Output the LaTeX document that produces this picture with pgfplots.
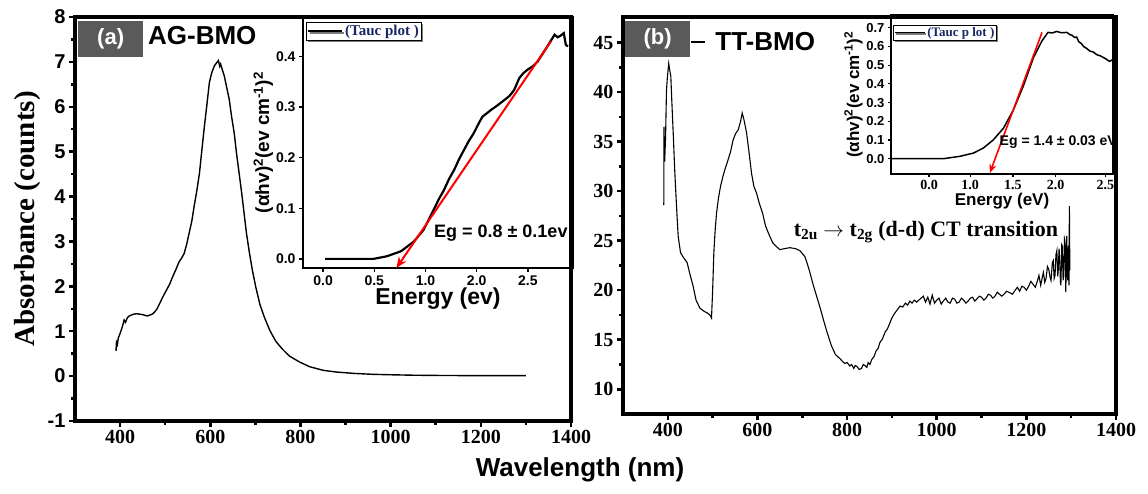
\documentclass[border=0pt]{standalone}
\usepackage{fontspec}
\setmainfont{Liberation Serif}
\setsansfont{Liberation Sans}
\usepackage{pgfplots}
\pgfplotsset{compat=1.18}
\usetikzlibrary{arrows.meta,shadows}
\newcommand{\fs}[1]{\fontsize{#1}{#1}\selectfont}
\definecolor{boxgray}{RGB}{90,90,90}
\definecolor{navy}{RGB}{25,40,100}

\begin{document}
\begin{tikzpicture}[x=1pt,y=1pt]
\useasboundingbox (0,0) rectangle (1148,493);

%================ panel (a) main
\begin{axis}[
 at={(75pt,72pt)}, anchor=south west, scale only axis,
 width=496pt, height=404pt,
 xmin=300, xmax=1400, ymin=-1, ymax=8,
 axis line style={line width=3.5pt},
 xtick={400,600,800,1000,1200,1400},
 xticklabels={400,600,800,1000,1200,1400},
 ytick={-1,0,1,2,3,4,5,6,7,8},
 yticklabels={-1,0,1,2,3,4,5,6,7,8},
 minor x tick num=1, minor y tick num=1,
 tick align=outside, xtick pos=bottom, ytick pos=left,
 major tick length=6pt, minor tick length=4pt,
 every tick/.style={line width=2.5pt,black},
 xticklabel style={font=\rmfamily\bfseries\fs{20}},
 yticklabel style={font=\sffamily\bfseries\fs{20}},
 ylabel={Absorbance (counts)},
 ylabel style={font=\rmfamily\bfseries\fs{29}},
 clip=false,
]
\addplot[black, line width=1.4pt] coordinates {
(391,0.56) (392,0.75) (394,0.70) (396,0.85) (400,0.95) (405,1.10) (409,1.25) (412,1.20)
(416,1.30) (420,1.34) (425,1.36) (430,1.38) (436,1.39) (443,1.38) (450,1.37) (456,1.35)
(461,1.34) (466,1.36) (471,1.38) (476,1.42) (482,1.50) (487,1.60) (494,1.75) (502,1.90)
(510,2.05) (516,2.20) (524,2.38) (531,2.55) (536,2.62) (542,2.73) (548,2.95) (553,3.18)
(559,3.45) (564,3.77) (570,4.12) (576,4.52) (581,5.00) (587,5.57) (592,6.00) (598,6.54)
(603,6.75) (609,6.91) (614,6.98) (618,7.03) (621,6.90) (623,6.95) (626,6.85) (631,6.69)
(636,6.45) (642,6.17) (647,5.80) (653,5.42) (658,4.98) (664,4.52) (670,4.05) (675,3.63)
(680,3.20) (686,2.80) (693,2.38) (701,1.98) (710,1.60) (720,1.31) (732,1.02) (745,0.78)
(760,0.60) (775,0.45) (797,0.32) (820,0.21) (850,0.13) (880,0.09) (920,0.06) (960,0.04)
(1000,0.03) (1050,0.02) (1100,0.015) (1200,0.01) (1300,0.01)
};
\node[fill=boxgray, text=white, font=\sffamily\bfseries\fs{22}, minimum width=65pt,
 minimum height=36pt, inner sep=0pt, anchor=north west] at (rel axis cs:0.006,0.99) {(a)};
\node[font=\sffamily\bfseries\fs{26}, anchor=west, inner sep=0pt] at (rel axis cs:0.147,0.955) {AG-BMO};
\end{axis}

%================ panel (a) inset
\begin{axis}[
 at={(303pt,225pt)}, anchor=south west, scale only axis,
 width=270pt, height=251pt,
 xmin=-0.196, xmax=2.44, ymin=-0.018, ymax=0.478,
 axis line style={line width=2.5pt},
 xtick={0,0.5,1,1.5,2}, xticklabels={0.0,0.5,1.0,2.0,2.5},
 ytick={0,0.1,0.2,0.3,0.4}, yticklabels={0.0,0.1,0.2,0.3,0.4},
 tick align=outside, xtick pos=bottom, ytick pos=left,
 major tick length=4pt,
 every tick/.style={line width=1.5pt,black},
 ticklabel style={font=\sffamily\bfseries\fs{14}},
 xlabel={Energy (ev)},
 xlabel style={font=\sffamily\bfseries\fs{23}, yshift=4pt},
 ylabel={(αhv)\textsuperscript{2}(ev cm\textsuperscript{-1})\textsuperscript{2}},
 ylabel style={font=\sffamily\bfseries\fs{19}, yshift=-4pt},
 legend style={at={(0.01,0.98)}, anchor=north west, draw=black, line width=1pt,
   fill=white, drop shadow={shadow xshift=1.5pt, shadow yshift=-1.5pt, fill=black},
   font=\rmfamily\bfseries\fs{15}, text=navy, inner sep=1pt},
 legend image code/.code={\draw[black, line width=2pt] (0pt,0pt) -- (34pt,0pt);},
 clip=false,
]
\addplot[black, line width=2.2pt] coordinates {
(0.02,0) (0.49,0.0) (0.62,0.005) (0.76,0.015) (0.885,0.034) (0.98,0.057) (1.08,0.097)
(1.13,0.118) (1.18,0.136) (1.23,0.158) (1.28,0.176) (1.33,0.198) (1.375,0.215)
(1.42,0.232) (1.47,0.248) (1.52,0.268) (1.556,0.281) (1.6,0.288) (1.637,0.294)
(1.7,0.303) (1.77,0.314) (1.82,0.322) (1.866,0.334) (1.915,0.357) (1.95,0.366)
(1.997,0.374) (2.05,0.381) (2.095,0.39) (2.19,0.42)
(2.26,0.443) (2.29,0.438) (2.31,0.44) (2.35,0.446) (2.37,0.423) (2.39,0.42)
};
\addlegendentry{(Tauc plot )}
\addplot[red, line width=2pt, -{Stealth[length=11pt,width=9pt]}] coordinates {(2.225,0.43) (0.716,-0.018)};
\node[font=\sffamily\bfseries\fs{18}] at (axis cs:1.735,0.051) {Eg = 0.8 ± 0.1ev};
\end{axis}

%================ panel (b) main
\begin{axis}[
 at={(623pt,79pt)}, anchor=south west, scale only axis,
 width=493pt, height=397pt,
 xmin=300, xmax=1400, ymin=7.5, ymax=47.6,
 axis line style={line width=3.5pt},
 xtick={400,600,800,1000,1200,1400},
 xticklabels={400,600,800,1000,1200,1400},
 ytick={10,15,20,25,30,35,40,45},
 yticklabels={10,15,20,25,30,35,40,45},
 minor x tick num=1, minor y tick num=1,
 tick align=outside, xtick pos=bottom, ytick pos=left,
 major tick length=6pt, minor tick length=4pt,
 every tick/.style={line width=2.5pt,black},
 ticklabel style={font=\rmfamily\bfseries\fs{20}},
 legend style={at={(0.136,0.937)}, anchor=west, draw=none, fill=none,
   font=\sffamily\bfseries\fs{26}, inner sep=0pt},
 legend image code/.code={\draw[black, line width=1.2pt] (0pt,0pt) -- (14pt,0pt); \path (22pt,0pt);},
 clip=false,
]
\addplot[black, line width=1.1pt] coordinates {
(391,28.6) (391.5,36.5) (393,33.0) (395,35.5) (397,40.2) (399,41.5) (402,42.9) (404,42.3)
(406.7,41.6) (409,39.0) (412,35.9) (415.5,32.0) (419.4,28.5) (423,25.5) (428.3,23.8)
(435,23.3) (443,22.8) (450,21.5) (456.5,20.4) (463,19.0) (471.4,18.2) (480,17.9) (488,17.7)
(494,17.5) (497.5,17.2) (500,20.0) (502.7,23.8) (505.5,26.0) (508.7,27.8) (513,29.3)
(517.6,30.5) (523,31.5) (528,32.3) (534.6,33.2) (540,34.0) (545.8,35.2) (551,35.8)
(557,36.2) (562,37.0) (566,37.9) (570,37.2) (575.7,35.9) (581,34.0) (586.8,31.8) (592,30.5)
(598,29.8) (604,28.8) (611.4,27.8) (618,26.5) (626,25.6) (634,24.8) (642.6,24.4) (650,24.1)
(660,24.2) (672,24.3) (685,24.2) (694.6,24.0) (705.8,23.4) (711,22.7) (717,21.8) (724,20.6)
(732,19.4) (740,18.2) (746.7,17.1) (755,15.8) (765,14.4) (774,13.5) (784,13.1) (790,12.8)
(795,12.6) (800,12.7) (806,12.35) (810,12.5) (815,12.1) (818,12.4) (822,12.3) (827,12.0)
(832,12.1) (836,12.5) (840,12.4) (844,12.2) (847,12.7) (851,12.5) (855,13.0) (860,13.3)
(865,13.9) (869,14.1) (873,14.7) (879,15.1) (885,15.8) (890,16.1) (895.5,16.7) (900,17.2)
(905,17.6) (910,17.9) (918,18.4) (924,18.3) (930,18.7) (935,18.5) (940,18.9) (945,18.7)
(950,19.0) (955,18.8) (962.5,19.1) (970,19.4) (975,18.8) (980,19.3) (985,18.6) (990,19.5)
(995,18.7) (1000,19.0) (1005,19.2) (1010,18.6) (1014.5,18.9) (1020,19.2) (1025,18.8)
(1030,18.7) (1035,19.2) (1040,19.1) (1045,18.7) (1050,18.8) (1055,19.2) (1060,19.0)
(1065,18.7) (1070,18.9) (1075,19.2) (1080,19.3) (1085,18.9) (1089,19.1) (1095,19.4)
(1100,19.3) (1105,19.0) (1110,19.2) (1115,19.6) (1120,19.5) (1125,19.2) (1130,19.4)
(1135,19.8) (1140,19.6) (1145,19.4) (1150,19.6) (1156,19.9) (1163,19.75) (1169,19.6)
(1175,20.0) (1180,20.3) (1185,19.9) (1190,20.4) (1195,20.3) (1200,20.0) (1205,20.4)
(1210,20.9) (1215,20.6) (1220,20.3) (1225,21.0) (1228,21.5) (1232,20.5) (1235,21.2)
(1238,21.8) (1241,20.8) (1244,21.2) (1247,22.4) (1250,22.1) (1253,21.3) (1255,21.0)
(1258,22.8) (1260,23.0) (1262,21.2) (1264,21.5) (1266,23.6) (1268,24.0) (1270,21.4)
(1271,22.0) (1273,24.2) (1274,23.5) (1276,20.8) (1277,20.5) (1279,24.6) (1280,24.5)
(1282,21.0) (1283,21.5) (1285,25.2) (1286,25.0) (1288,19.8) (1289,23.0) (1290,25.5)
(1292,21.0) (1293,22.5) (1294,24.5) (1295,20.5) (1296,28.5) (1297,22.0)
};
\addlegendentry{TT-BMO}
\node[fill=boxgray, text=white, font=\sffamily\bfseries\fs{22}, minimum width=65pt,
 minimum height=36pt, inner sep=0pt, anchor=north west] at (rel axis cs:0.004,0.99) {(b)};
\node[font=\rmfamily\bfseries\fs{22}] at (axis cs:976,25.9)
 {t\textsubscript{2u} $\rightarrow$ t\textsubscript{2g} (d-d) CT transition};
\end{axis}

%================ panel (b) inset
\begin{axis}[
 at={(891pt,319pt)}, anchor=south west, scale only axis,
 width=222pt, height=159pt,
 xmin=0.075, xmax=2.67, ymin=-0.082, ymax=0.768,
 axis line style={line width=2.5pt},
 xtick={0.52,1,1.5,2,2.58}, xticklabels={0.0,1.0,1.5,2.0,2.5},
 ytick={0,0.1,0.2,0.3,0.4,0.5,0.6,0.7},
 yticklabels={0.0,0.1,0.2,0.3,0.4,0.5,0.6,0.7},
 tick align=outside, xtick pos=bottom, ytick pos=left,
 major tick length=3pt,
 every tick/.style={line width=1.2pt,black},
 xticklabel style={font=\rmfamily\bfseries\fs{14}},
 yticklabel style={font=\sffamily\bfseries\fs{13}},
 xlabel={Energy (eV)},
 xlabel style={font=\sffamily\bfseries\fs{17}, yshift=4pt},
 ylabel={(αhv)\textsuperscript{2}(ev cm\textsuperscript{-1})\textsuperscript{2}},
 ylabel style={font=\sffamily\bfseries\fs{17}, yshift=-3pt},
 legend style={at={(0.01,0.94)}, anchor=north west, draw=black, line width=0.8pt,
   fill=white, drop shadow={shadow xshift=1.2pt, shadow yshift=-1.2pt, fill=black},
   font=\rmfamily\bfseries\fs{13}, text=navy, inner sep=0.5pt},
 legend image code/.code={\draw[black, line width=1.2pt] (0pt,0pt) -- (30pt,0pt);},
 clip=false,
]
\addplot[black, line width=1.5pt] coordinates {
(0.075,0) (0.69,0) (0.88,0.0125) (1.04,0.03) (1.155,0.057) (1.27,0.1) (1.39,0.163)
(1.505,0.26) (1.62,0.386) (1.74,0.54) (1.84,0.63) (1.91,0.675) (1.96,0.672) (2.01,0.68)
(2.07,0.673) (2.13,0.675) (2.17,0.662) (2.19,0.66) (2.22,0.648) (2.245,0.65) (2.27,0.625)
(2.3,0.615) (2.33,0.598) (2.36,0.59) (2.4,0.575) (2.44,0.57) (2.48,0.556)
(2.52,0.55) (2.58,0.535) (2.63,0.52) (2.67,0.53)
};
\addlegendentry{(Tauc p lot )}
\addplot[red, line width=1.6pt, -{Stealth[length=9pt,width=7pt]}] coordinates {(1.84,0.675) (1.23,-0.077)};
\node[font=\sffamily\bfseries\fs{14}] at (axis cs:2.03,0.086) {Eg = 1.4 ± 0.03 eV};
\end{axis}

\node[font=\sffamily\bfseries\fs{26}] at (580,23) {Wavelength (nm)};
\end{tikzpicture}
\end{document}
